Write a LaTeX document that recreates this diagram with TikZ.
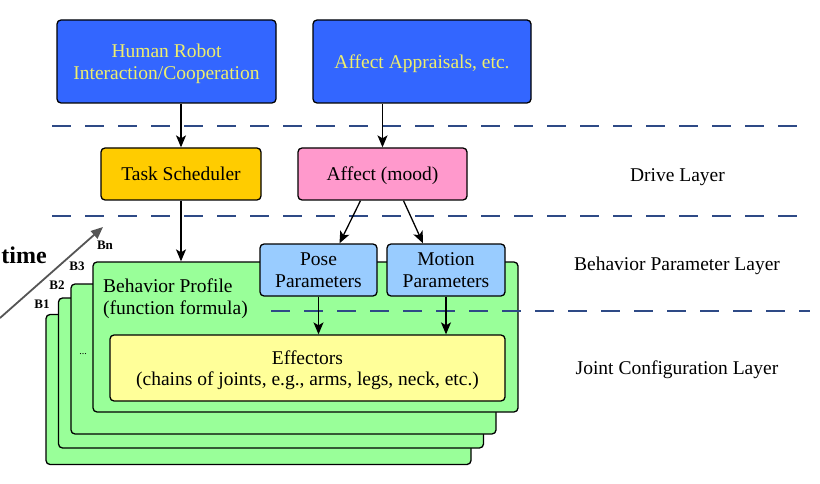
\documentclass[tikz,border=0pt]{standalone}
\usepackage{fontspec}
\setmainfont{Liberation Serif}
\usetikzlibrary{arrows.meta}
\definecolor{hblue}{HTML}{3366FF}
\definecolor{htext}{HTML}{EEEE6E}
\definecolor{tgold}{HTML}{FFCC00}
\definecolor{apink}{HTML}{FF99CC}
\definecolor{pblue}{HTML}{99CCFF}
\definecolor{bgreen}{HTML}{99FF99}
\definecolor{eyellow}{HTML}{FFFF99}
\definecolor{dashblue}{HTML}{2E4A86}
\definecolor{tgray}{HTML}{555555}
\begin{document}
\begin{tikzpicture}[x=1pt,y=-1pt,
 box/.style={draw=black, line width=1.3pt, rounded corners=4pt, align=center,
   font=\fontsize{19.5}{21.5}\selectfont, inner sep=0pt, text depth=0pt},
 arr/.style={-{Stealth[length=12pt,width=10pt,inset=3pt]}, line width=1.3pt},
 layerline/.style={draw=dashblue, line width=1.5pt, dash pattern=on 19pt off 14pt},
 lbl/.style={font=\fontsize{19.5}{21.5}\selectfont, inner sep=0pt},
 blbl/.style={font=\fontsize{13}{15}\selectfont\bfseries, inner sep=0pt},
 gbox/.style={draw=black, line width=1.3pt, rounded corners=4pt, fill=bgreen,
   minimum width=425pt, minimum height=150pt, inner sep=0pt}
]
\fill[white] (0,0) rectangle (820,484);
\useasboundingbox (0,0) rectangle (820,484);

% top boxes
\node[box, fill=hblue, text=htext, minimum width=219pt, minimum height=83pt]
  (hri) at (166.5,61.5) {Human Robot\\Interaction/Cooperation};
\node[box, fill=hblue, text=htext, minimum width=218pt, minimum height=83pt]
  (app) at (422,61.5) {Affect Appraisals, etc.};

% drive layer boxes
\node[box, fill=tgold, minimum width=160pt, minimum height=52pt]
  (task) at (181,174) {Task Scheduler};
\node[box, fill=apink, minimum width=169pt, minimum height=52pt]
  (aff) at (382.5,174) {Affect (mood)};

% green behavior stack
\node[gbox] (g1) at (258.5,389.5) {};
\node[gbox] (g2) at (271,373) {};
\node[gbox] (g3) at (283.5,359) {};
\node[gbox] (gn) at (305.5,337) {};

\node[lbl, align=left, anchor=west] (bp) at (103,298.5) {Behavior Profile\\(function formula)};
\node[font=\fontsize{10}{12}\selectfont, inner sep=0pt] (dots) at (83,354) {...};

\node[box, fill=eyellow, minimum width=395pt, minimum height=66pt]
  (eff) at (307.5,368) {Effectors\\(chains of joints, e.g., arms, legs, neck, etc.)};

% parameter boxes
\node[box, fill=pblue, minimum width=117pt, minimum height=52pt]
  (pose) at (318.5,270) {Pose\\Parameters};
\node[box, fill=pblue, minimum width=118pt, minimum height=52pt]
  (motion) at (446,270) {Motion\\Parameters};

% layer separators
\draw[layerline] (52,126) -- (810,126);
\draw[layerline] (52,216) -- (810,216);
\draw[layerline] (271,311) -- (810,311);

% arrows
\draw[arr] (task.north |- hri.south) -- (task.north);
\draw[arr] (aff.north |- app.south) -- (aff.north);
\draw[arr] (task.south) -- (task.south |- gn.north);
\draw[arr] ([xshift=-22pt]aff.south) -- ([xshift=21pt]pose.north);
\draw[arr] ([xshift=21pt]aff.south) -- ([xshift=-23pt]motion.north);
\draw[arr] (pose.south) -- (pose.south |- eff.north);
\draw[arr] (motion.south) -- (motion.south |- eff.north);

% time arrow and labels
\coordinate (tstart) at (0,318);
\coordinate (tend) at (103,227);
\draw[tgray, line width=1.8pt, -{Triangle[length=12pt,width=10pt]}] (tstart) -- (tend);
\node[font=\fontsize{24}{26}\selectfont\bfseries, inner sep=0pt] (time) at (24,255) {time};
\node[blbl] (bn) at (105,245) {Bn};
\node[blbl] (b3) at (77,266) {B3};
\node[blbl] (b2) at (57,285) {B2};
\node[blbl] (b1) at (42,304) {B1};

% layer labels
\node[lbl, text depth=0pt] (drive) at (677.5,175) {Drive Layer};
\node[lbl, text depth=0pt] (bpl) at (677,264) {Behavior Parameter Layer};
\node[lbl, text depth=0pt] (jcl) at (677,368) {Joint Configuration Layer};
\end{tikzpicture}
\end{document}
